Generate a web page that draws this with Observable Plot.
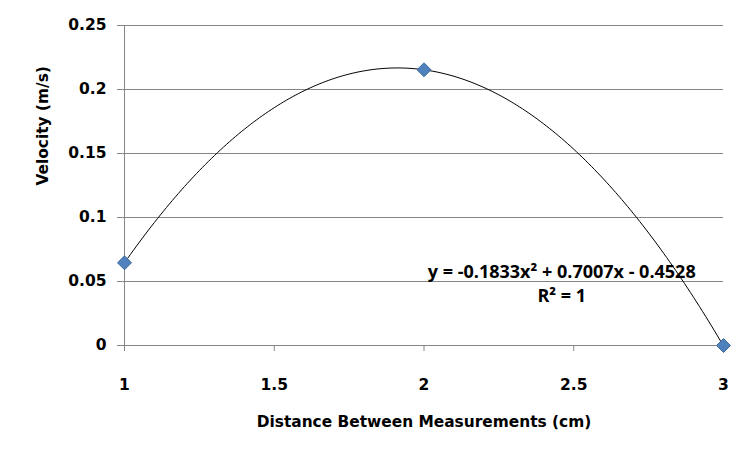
<!DOCTYPE html>
<html>
<head>
<meta charset="utf-8">
<script src="https://cdn.jsdelivr.net/npm/d3@7"></script>
<script src="https://cdn.jsdelivr.net/npm/@observablehq/plot@0.6"></script>
<style>
  html, body { margin: 0; padding: 0; background: #fff; }
  #chart svg { display: block; }
</style>
</head>
<body>
<div id="chart"></div>
<script>
// Data points (distance, velocity)
const distance = [1, 2, 3];
const velocity = [0.0646, 0.2154, 0.0];
// Trendline coefficients shown in the chart: y = a x^2 + b x + c
const coefficients = [-0.1833, 0.7007, -0.4528];
const xTicks = [1, 1.5, 2, 2.5, 3];
const yTicks = [0, 0.05, 0.1, 0.15, 0.2, 0.25];
const equationLines = ["y = -0.1833x² + 0.7007x - 0.4528", "R² = 1"];
const xTitle = "Distance Between Measurements (cm)";
const yTitle = "Velocity (m/s)";

const points = distance.map((d, i) => ({x: d, y: velocity[i]}));
const [a, b, c] = coefficients;
const trend = d3.range(0, 201).map(i => {
  const x = 1 + i * 0.01;
  return {x, y: a * x * x + b * x + c};
});
const labels = [
  {x: 2.46, y: 0.0575, text: equationLines[0]},
  {x: 2.46, y: 0.0385, text: equationLines[1]}
];

const chart = Plot.plot({
  width: 752,
  height: 459,
  marginLeft: 124,
  marginRight: 29,
  marginTop: 25,
  marginBottom: 114,
  style: {fontFamily: "'DejaVu Sans', sans-serif", background: "#fff", overflow: "visible"},
  x: {domain: [1, 3]},
  y: {domain: [0, 0.25]},
  marks: [
    Plot.gridY(yTicks, {stroke: "#868686", strokeOpacity: 1}),
    Plot.ruleX([1], {stroke: "#868686"}),
    Plot.ruleY([0], {stroke: "#868686"}),
    Plot.axisY(yTicks, {
      tickSize: 7, tickPadding: 11, stroke: "#868686",
      fill: "#000", fontSize: 15.5, fontWeight: "bold",
      tickFormat: d3.format("~g"), label: null
    }),
    Plot.axisX(xTicks, {
      tickSize: 6, tickPadding: 27, stroke: "#868686",
      fill: "#000", fontSize: 15.5, fontWeight: "bold",
      tickFormat: d3.format("~g"), label: null
    }),
    Plot.text([xTitle], {
      text: d => d, frameAnchor: "bottom", dy: 81,
      fontFamily: "'DejaVu Sans', sans-serif", fontWeight: "bold", fontSize: 15.4, fill: "#000"
    }),
    Plot.text([yTitle], {
      text: d => d, frameAnchor: "left", dx: -81, rotate: -90,
      fontFamily: "'DejaVu Sans', sans-serif", fontWeight: "bold", fontSize: 15.4, fill: "#000"
    }),
    Plot.line(trend, {x: "x", y: "y", stroke: "#000", strokeWidth: 1, curve: "linear"}),
    Plot.dot(points, {x: "x", y: "y", symbol: "diamond2", r: 6.3, fill: "#4F81BD", stroke: "#3E6A9E", strokeWidth: 1}),
    Plot.text(labels, {x: "x", y: "y", text: "text", fontFamily: "'Open Sans', sans-serif", fontWeight: "bold", fontSize: 18, fill: "#000"})
  ]
});
document.getElementById("chart").appendChild(chart);
</script>
</body>
</html>
